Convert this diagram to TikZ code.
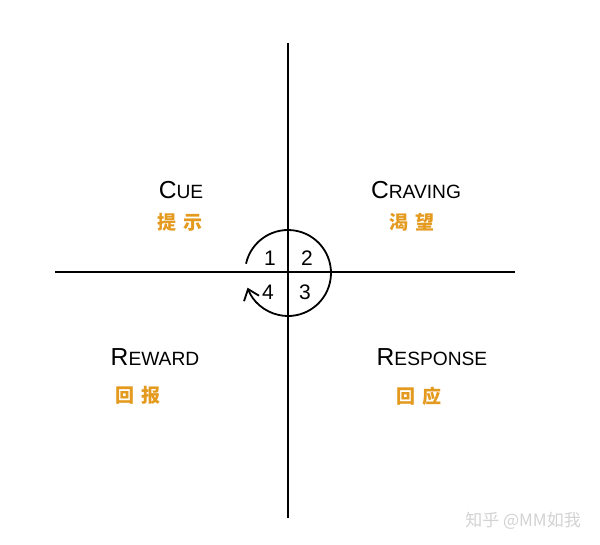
\documentclass[tikz,border=0pt]{standalone}
\usepackage{fontspec}
\setmainfont{Liberation Sans}
\newfontfamily\cjk{Noto Sans CJK SC}
\usetikzlibrary{arrows.meta}
\definecolor{orangetxt}{HTML}{E49A1E}
\definecolor{wm}{HTML}{D2D2D2}
\newcommand{\bigC}[1]{{\fontsize{12.3}{12}\selectfont #1}}
\newcommand{\smC}[1]{{\fontsize{9.6}{10}\selectfont #1}}
\begin{document}
\begin{tikzpicture}[x=0.5pt,y=0.5pt,
  axis/.style={line width=0.9pt,black},
  eng/.style={inner sep=0pt, anchor=center},
  chn/.style={font=\cjk\bfseries\fontsize{9.5}{9.5}\selectfont, text=orangetxt, inner sep=0pt, anchor=center},
  num/.style={font=\fontsize{10.5}{10.5}\selectfont, inner sep=0pt, anchor=center},
  cyc/.style={line width=0.9pt,black,-{Straight Barb[length=5pt,width=8pt,line width=0.9pt]}}]
\useasboundingbox (0,0) rectangle (600,-545);
\coordinate (top) at (288,-43);
\coordinate (bot) at (288,-518);
\coordinate (lft) at (55,-272);
\coordinate (rgt) at (515,-272);
\coordinate (ctr) at (288,-273);
\draw[axis] (top) -- (bot);
\draw[axis] (lft) -- (rgt);
\draw[cyc] ([shift={(167.5:43)}]ctr) arc[start angle=167.5, end angle=-160, radius=43];
\node[num] (n1) at (270,-258) {1};
\node[num] (n2) at (307,-258) {2};
\node[num] (n4) at (268,-292) {4};
\node[num] (n3) at (305,-292) {3};
\node[eng] (cue) at (181,-190) {\bigC{C}\smC{UE}};
\node[chn] (cuecn) at (180,-222) {提\,\,示};
\node[eng] (crav) at (416,-190) {\bigC{C}\smC{RAVING}};
\node[chn] (cravcn) at (412,-222) {渴\,\,望};
\node[eng] (rew) at (155,-357) {\bigC{R}\smC{EWARD}};
\node[chn] (rewcn) at (138,-395) {回\,\,报};
\node[eng] (resp) at (432,-357) {\bigC{R}\smC{ESPONSE}};
\node[chn] (respcn) at (419,-396) {回\,\,应};
\node[font=\cjk\fontsize{8.5}{8.5}\selectfont, text=wm, inner sep=0pt] (wmk) at (523,-521) {知乎 @MM如我};
\end{tikzpicture}
\end{document}
